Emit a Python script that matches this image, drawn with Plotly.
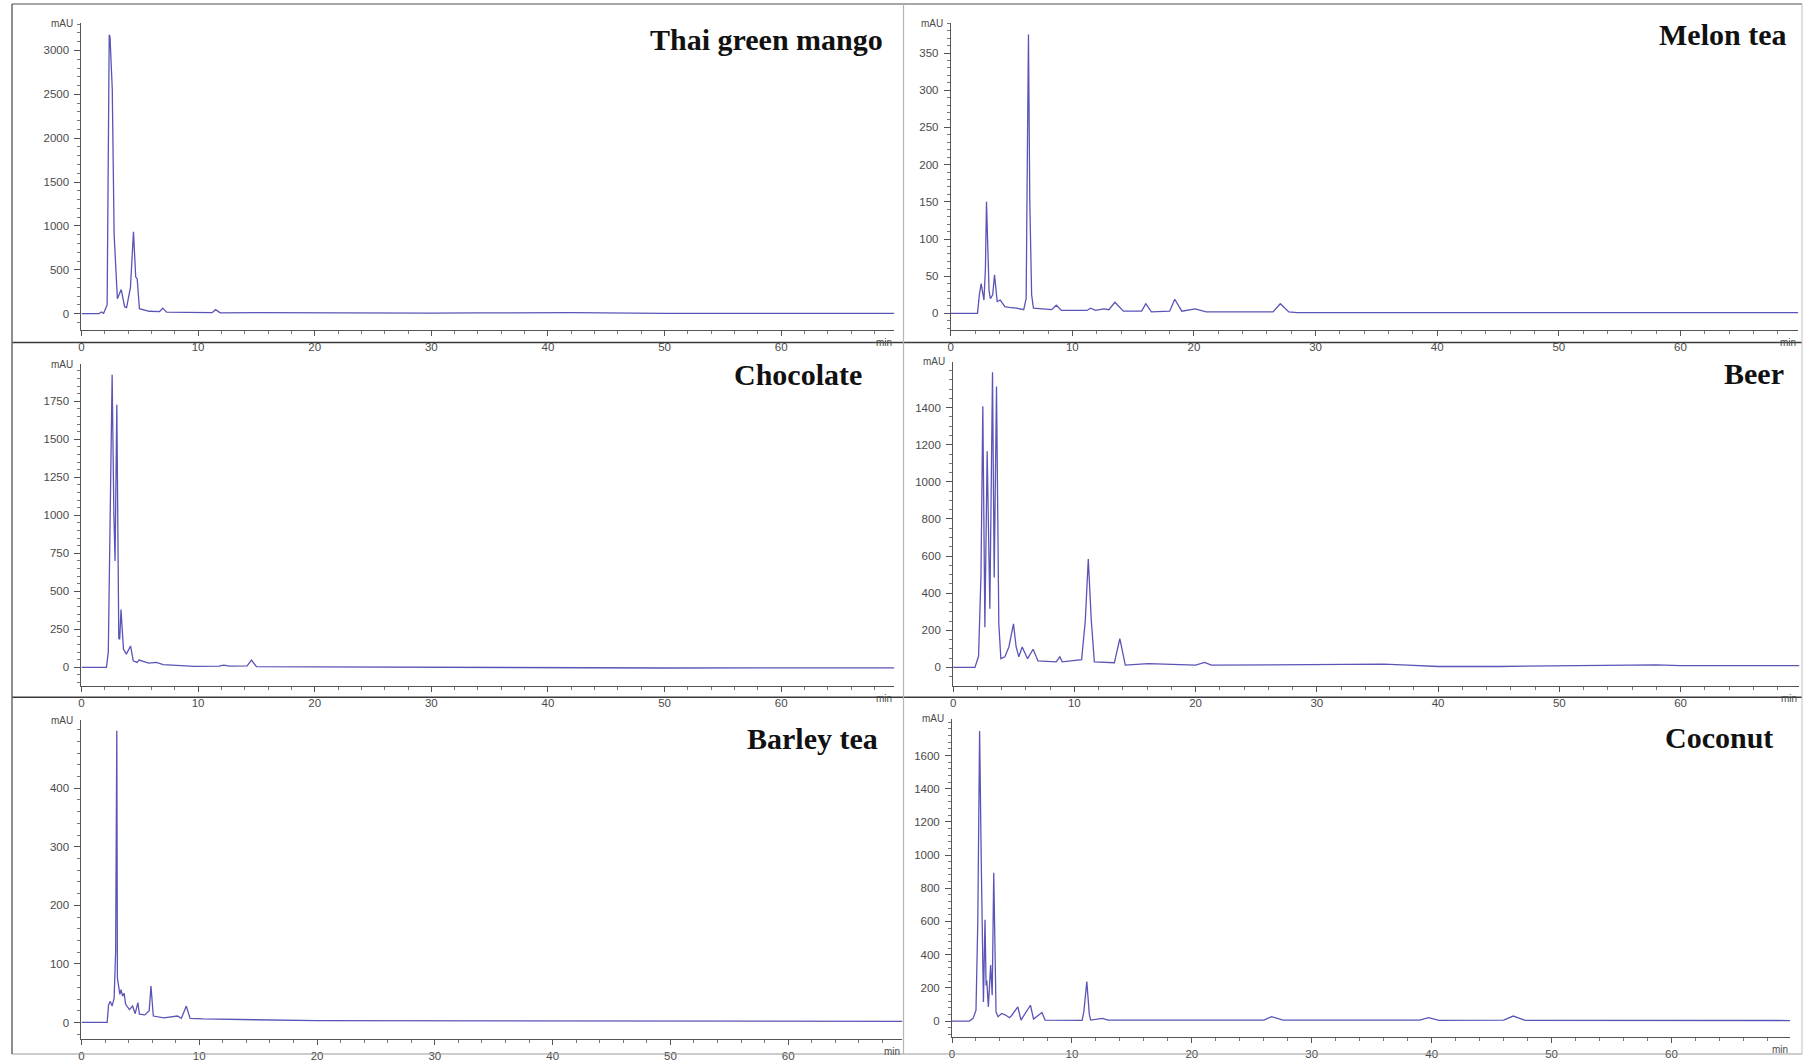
import plotly.graph_objects as go

# Retention time (min) and absorbance (mAU) for each sample chromatogram
mango_t = [0, 1.5, 1.7, 1.9, 2.2, 2.3, 2.38, 2.45, 2.64, 2.8, 2.92, 3.08, 3.41, 3.7, 3.87, 4.2,
           4.46, 4.65, 4.78, 4.97, 5.8, 6.7, 6.97, 7.3, 9, 11.2, 11.5, 11.9, 15, 20, 30, 34, 42, 50, 60, 69.7]
mango_mau = [0, 0, 20, 5, 100, 1500, 3180, 3150, 2560, 900, 510, 170, 276, 80, 70, 300,
             933, 420, 397, 57, 28, 25, 64, 18, 15, 12, 46, 10, 12, 8, 6, 10, 12, 4, 6, 5]

melon_t = [0, 2.2, 2.35, 2.5, 2.73, 2.85, 2.94, 3.04, 3.15, 3.26, 3.45, 3.6, 3.82, 4.07, 4.45, 4.8, 5.1,
           5.4, 6.0, 6.2, 6.32, 6.39, 6.5, 6.65, 6.8, 8.3, 8.68, 9.1, 11.2, 11.5, 11.9, 12.6, 13.0, 13.5,
           14.2, 15.7, 16.04, 16.5, 18.0, 18.42, 19.0, 20.1, 21, 26.5, 27.1, 27.8, 28.5, 69.7]
melon_mau = [0, 0, 25, 40, 18, 60, 150, 96, 30, 20, 25, 52, 16, 18, 9, 8, 8,
             7, 5, 20, 250, 375, 150, 25, 7, 5, 11, 4, 4, 7, 4, 6, 5, 15,
             3, 3, 13, 2, 3, 19, 3, 6, 2, 2, 13, 2, 1, 1]

choc_t = [0, 2.14, 2.3, 2.45, 2.63, 2.78, 2.88, 3.03, 3.12, 3.2, 3.28, 3.39, 3.6, 3.85, 4.21, 4.44,
          4.77, 4.94, 5.76, 6.42, 7.0, 7.74, 8.5, 9.7, 11.8, 12.2, 12.7, 14.2, 14.58, 15.0, 20, 30, 40,
          50, 60, 69.7]
choc_mau = [0, 0, 100, 900, 1924, 1000, 700, 1728, 500, 190, 185, 380, 120, 87, 141, 43,
            33, 48, 28, 33, 18, 15, 10, 6, 8, 15, 8, 10, 48, 5, 3, 0, -5,
            -4, -3, -3]

beer_t = [0, 1.8, 2.1, 2.3, 2.45, 2.62, 2.81, 3.03, 3.25, 3.39, 3.58, 3.77, 3.94, 4.27, 4.6, 4.98,
          5.2, 5.42, 5.7, 6.14, 6.6, 7.0, 8.5, 8.8, 9.0, 9.6, 10.1, 10.6, 10.9, 11.15, 11.4, 11.65,
          13.3, 13.75, 14.2, 16.1, 20.0, 20.74, 21.3, 30, 35.5, 37.5, 40, 45, 50, 58, 60, 69.8]
beer_mau = [0, 0, 60, 500, 1407, 217, 1165, 316, 1591, 485, 1514, 235, 47, 57, 110, 235,
            110, 57, 110, 47, 98, 35, 30, 57, 30, 35, 38, 42, 250, 584, 250, 30,
            25, 155, 12, 20, 12, 27, 12, 15, 18, 12, 5, 5, 8, 14, 10, 10]

barley_t = [0, 2.18, 2.3, 2.45, 2.6, 2.77, 2.9, 3.0, 3.05, 3.1, 3.26, 3.36, 3.49, 3.62, 3.75, 4.07,
            4.34, 4.56, 4.79, 4.92, 5.38, 5.75, 5.9, 6.1, 7.0, 8.15, 8.48, 8.9, 9.22, 10.3, 15, 20, 69.7]
barley_mau = [0, 0, 30, 36, 28, 41, 120, 498, 76, 70, 48, 56, 45, 50, 31, 22,
              28, 15, 34, 14, 13, 20, 62, 11, 8, 11, 7, 28, 7, 6, 4, 3, 2]

coco_t = [0, 1.44, 1.76, 2.0, 2.15, 2.3, 2.45, 2.62, 2.75, 2.84, 2.9, 3.03, 3.22, 3.35, 3.48, 3.67,
          3.83, 4.15, 4.47, 4.79, 4.95, 5.49, 5.75, 6.54, 6.8, 7.5, 7.76, 10.85, 11.0, 11.24, 11.45,
          11.56, 12.55, 13, 26.0, 26.65, 27.6, 39.0, 39.75, 40.6, 46.0, 46.8, 47.8, 69.9]
coco_mau = [0, 0, 16, 65, 600, 1748, 900, 115, 610, 214, 244, 85, 337, 155, 893, 55,
            26, 46, 36, 20, 32, 85, 6, 95, 12, 51, 6, 4, 60, 238, 40,
            6, 16, 5, 5, 26, 5, 5, 20, 4, 5, 30, 4, 3]

sample_names = ["Thai green mango", "Melon tea", "Chocolate", "Beer", "Barley tea", "Coconut"]
x_ticks = [0, 10, 20, 30, 40, 50, 60]

series = [(mango_t, mango_mau), (melon_t, melon_mau), (choc_t, choc_mau),
          (beer_t, beer_mau), (barley_t, barley_mau), (coco_t, coco_mau)]

# panel geometry: x domain, y domain, y range, major y ticks, minor y step, x max
panels = [
    ([0.0434, 0.493], [0.688, 0.978], [-183, 3310], list(range(0, 3001, 500)), 100, 69.7),
    ([0.5242, 0.993], [0.688, 0.978], [-22, 390], list(range(0, 351, 50)), 10, 69.7),
    ([0.0434, 0.493], [0.3512, 0.6556], [-121, 1995], list(range(0, 1751, 250)), 50, 69.7),
    ([0.5255, 0.9936], [0.3512, 0.6577], [-99, 1647], list(range(0, 1401, 200)), 50, 69.8),
    ([0.0434, 0.4975], [0.0166, 0.3186], [-29, 516], list(range(0, 401, 100)), 20, 69.7),
    ([0.5249, 0.9885], [0.0188, 0.3198], [-97, 1820], list(range(0, 1601, 200)), 40, 69.9),
]

# sample name positions (pixels from top-left of the 1811x1062 page)
title_px = [(883, 40), (1788, 35), (862, 376), (1786, 375), (878, 742), (1775, 741)]

W, H = 1811, 1062
line_col = "#5a54b6"
axis_col = "#555555"
tick_font = dict(family="Liberation Sans, Arial, sans-serif", size=11.5, color="#4a4a4a")
unit_font = dict(family="Liberation Sans, Arial, sans-serif", size=10, color="#4a4a4a")

fig = go.Figure()
layout = dict(
    width=W, height=H, autosize=False,
    margin=dict(l=0, r=0, t=0, b=0),
    paper_bgcolor="white", plot_bgcolor="white",
    showlegend=False,
)
annotations = []
shapes = []

for i, ((t, v), (xd, yd, yr, yt, ymin, xmax)) in enumerate(zip(series, panels), start=1):
    sfx = "" if i == 1 else str(i)
    fig.add_trace(go.Scatter(
        x=t, y=v, mode="lines", xaxis="x" + sfx, yaxis="y" + sfx,
        line=dict(color=line_col, width=1.3), hoverinfo="skip",
    ))
    layout["xaxis" + sfx] = dict(
        domain=xd, range=[0, xmax], anchor="y" + sfx,
        tickmode="array", tickvals=x_ticks,
        showline=True, linecolor=axis_col, linewidth=1,
        ticks="outside", ticklen=5, tickcolor=axis_col, tickwidth=1,
        minor=dict(tickmode="linear", tick0=0, dtick=2, ticks="outside",
                   ticklen=3, tickcolor="#777777"),
        showgrid=False, zeroline=False, tickfont=tick_font, fixedrange=True,
        ticklabelstandoff=1,
    )
    layout["yaxis" + sfx] = dict(
        domain=yd, range=yr, anchor="x" + sfx,
        tickmode="array", tickvals=yt,
        showline=True, linecolor=axis_col, linewidth=1,
        ticks="outside", ticklen=6, tickcolor=axis_col, tickwidth=1,
        minor=dict(tickmode="linear", tick0=0, dtick=ymin, ticks="outside",
                   ticklen=3, tickcolor="#777777"),
        showgrid=False, zeroline=False, tickfont=tick_font, fixedrange=True,
        ticklabelstandoff=3,
    )
    # unit label at the top of the y axis
    annotations.append(dict(
        text="mAU", x=xd[0], y=yd[1], xref="paper", yref="paper",
        xanchor="right", yanchor="middle", xshift=-6, showarrow=False,
        font=unit_font,
    ))
    # time unit at the right end of the x axis
    annotations.append(dict(
        text="min", x=xd[1], y=yd[0], xref="paper", yref="paper",
        xanchor="right", yanchor="top", yshift=-5, showarrow=False,
        font=unit_font,
    ))
    # sample name
    px, py = title_px[i - 1]
    annotations.append(dict(
        text="<b>%s</b>" % sample_names[i - 1], x=px / W, y=1 - py / H,
        xref="paper", yref="paper", xanchor="right", yanchor="middle",
        showarrow=False,
        font=dict(family="Liberation Serif, Times New Roman, serif", size=30, color="#111111"),
    ))

# panel frame lines
def hline(ypx, x0px, x1px, color, width):
    shapes.append(dict(type="line", xref="paper", yref="paper",
                       x0=x0px / W, x1=x1px / W, y0=1 - ypx / H, y1=1 - ypx / H,
                       line=dict(color=color, width=width)))

def vline(xpx, y0px, y1px, color, width):
    shapes.append(dict(type="line", xref="paper", yref="paper",
                       x0=xpx / W, x1=xpx / W, y0=1 - y0px / H, y1=1 - y1px / H,
                       line=dict(color=color, width=width)))

hline(4, 9, 1802, "#8a8a8a", 1.5)
hline(344, 9, 1802, "#3a3a3a", 1.5)
hline(700.5, 9, 1802, "#3a3a3a", 1.5)
hline(1059, 9, 1802, "#9a9a9a", 1.2)
vline(9, 4, 1059, "#6a6a6a", 1.5)
vline(902, 4, 1059, "#b5b5b5", 1.2)
vline(1802, 4, 1059, "#c0c0c0", 1.0)

layout["annotations"] = annotations
layout["shapes"] = shapes
fig.update_layout(**layout)

fig.write_html("out.html", config={"displayModeBar": False})
